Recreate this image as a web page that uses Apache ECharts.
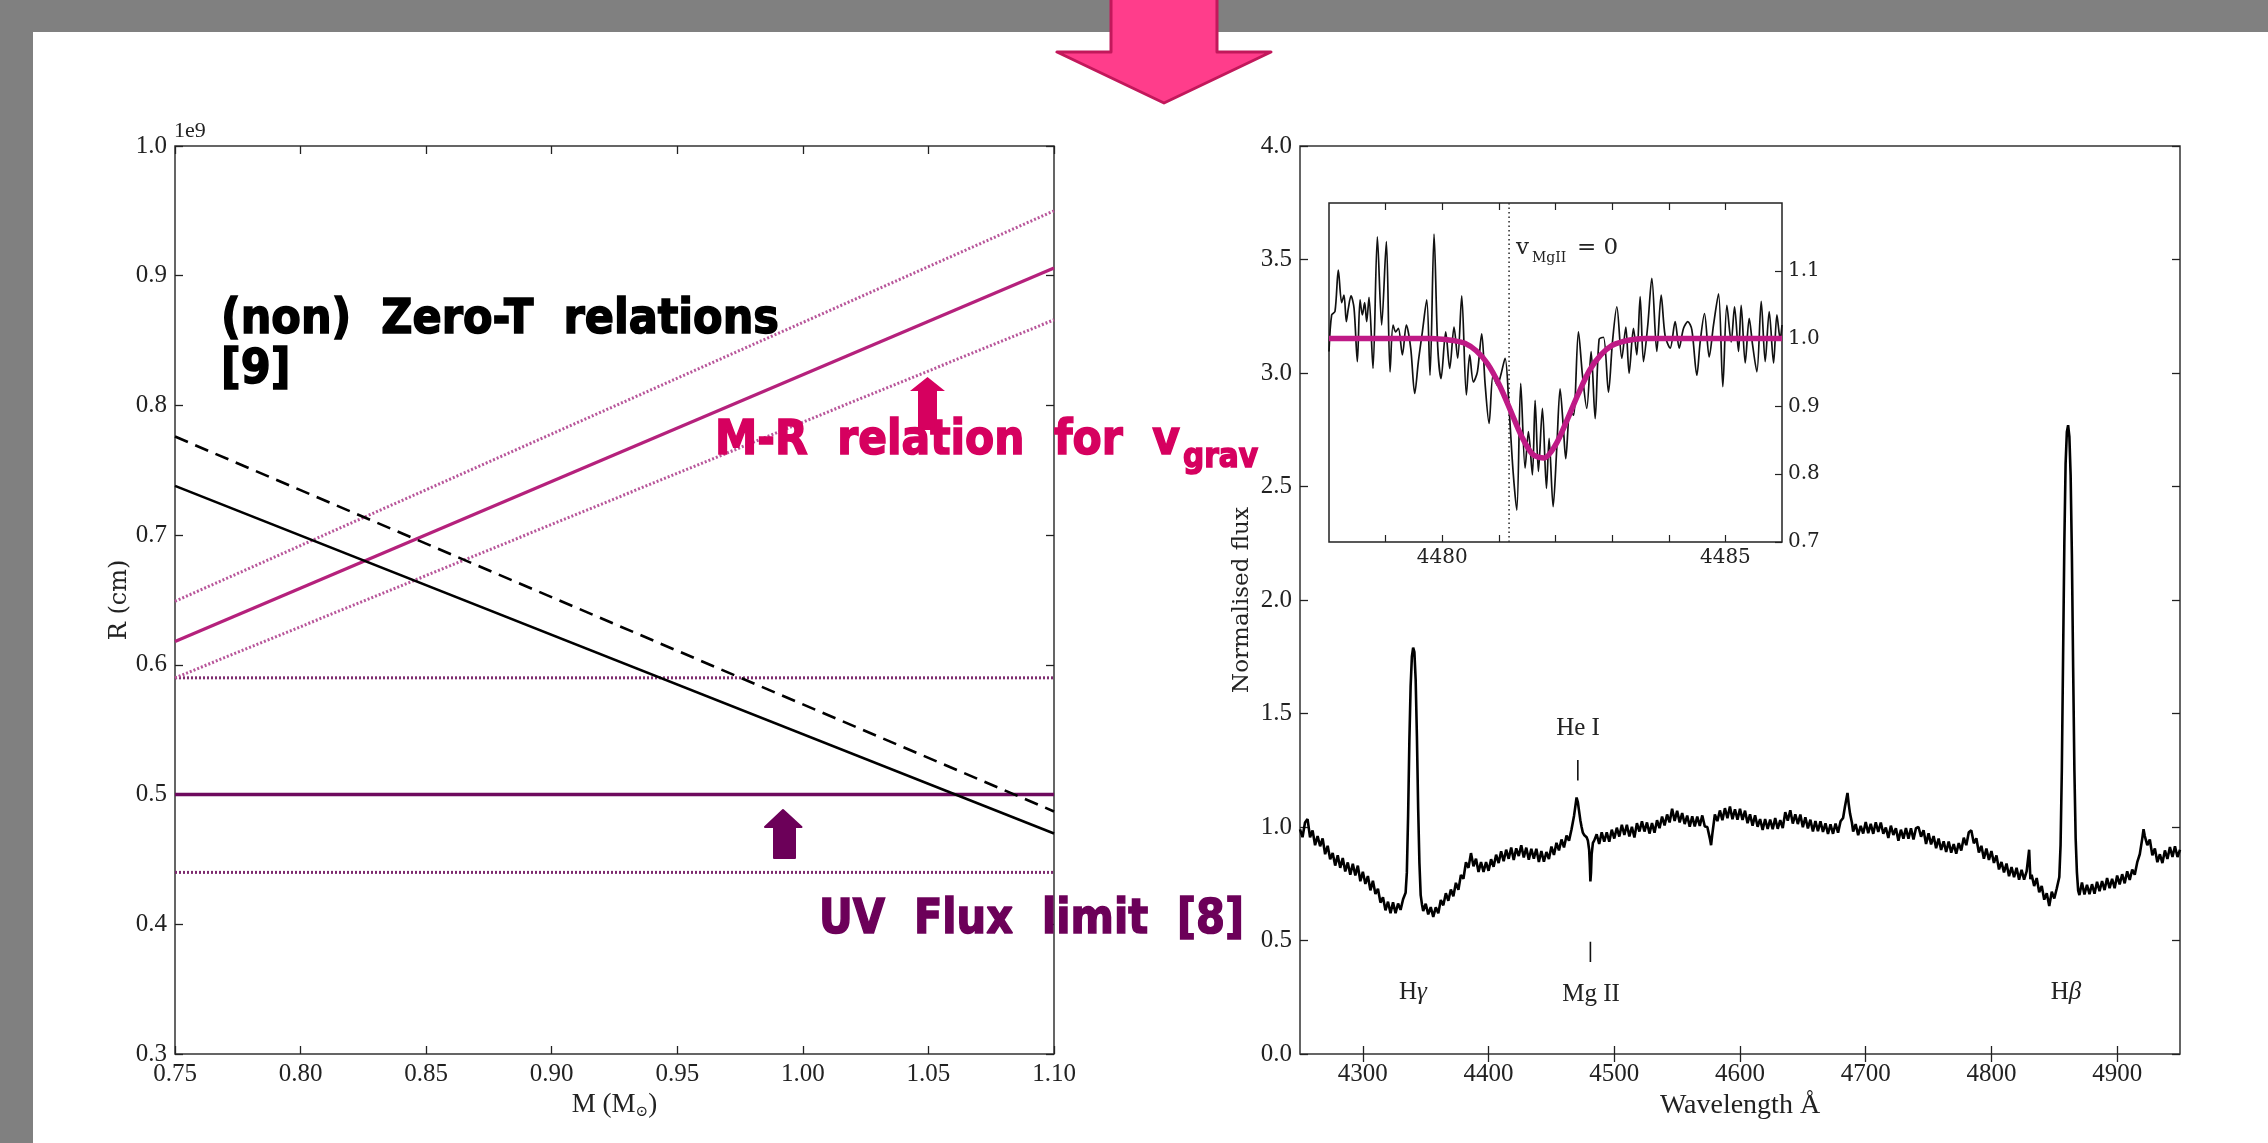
<!DOCTYPE html>
<html><head><meta charset="utf-8">
<script src="https://cdn.jsdelivr.net/npm/echarts@6/dist/echarts.min.js"></script>
<style>html,body{margin:0;padding:0;background:#fff;}#c{width:2268px;height:1143px;}</style>
</head><body><div id="c"></div>
<script>
// ---------- Left panel: mass-radius relations ----------
const massRange = [0.75, 1.10];
const zeroT = [0.738, 0.470];
const nonZeroT = [0.776, 0.487];
const mrGrav = [0.618, 0.906];
const mrGravUpper = [0.649, 0.950];
const mrGravLower = [0.590, 0.866];
const uvLimit = [0.50, 0.50];
const uvUpper = [0.59, 0.59];
const uvLower = [0.44, 0.44];
const massTicks = [0.75, 0.80, 0.85, 0.90, 0.95, 1.00, 1.05, 1.10];
const radiusTicks = [0.3, 0.4, 0.5, 0.6, 0.7, 0.8, 0.9, 1.0];

// ---------- Right panel: spectrum ----------
const waveTicks = [4300, 4400, 4500, 4600, 4700, 4800, 4900];
const fluxTicks = [0.0, 0.5, 1.0, 1.5, 2.0, 2.5, 3.0, 3.5, 4.0];
const specWave = [4250,4252,4254,4256,4258,4260,4262,4264,4266,4268,4270,4272,4274,4276,4278,4280,4282,4284,4286,4288,4290,4292,4294,4296,4298,4300,4302,4304,4306,4308,4310,4312,4314,4316,4318,4320,4322,4324,4326,4328,4330,4332,4333,4334,4335,4336,4337,4338,4339,4340,4341,4342,4343,4344,4345,4346,4347,4348,4350,4352,4354,4356,4358,4360,4362,4364,4366,4368,4370,4372,4374,4376,4378,4380,4382,4384,4386,4388,4390,4392,4394,4396,4398,4400,4402,4404,4406,4408,4410,4412,4414,4416,4418,4420,4422,4424,4426,4428,4430,4432,4434,4436,4438,4440,4442,4444,4446,4448,4450,4452,4454,4456,4458,4460,4462,4464,4466,4467,4468,4469,4470,4471,4472,4473,4474,4475,4476,4478,4479,4480,4480.5,4481,4481.5,4482,4483,4484,4486,4488,4490,4492,4494,4496,4498,4500,4502,4504,4506,4508,4510,4512,4514,4516,4518,4520,4522,4524,4526,4528,4530,4532,4534,4536,4538,4540,4542,4544,4546,4548,4550,4552,4554,4556,4558,4560,4562,4564,4566,4568,4570,4572,4574,4576,4577,4578,4580,4582,4584,4586,4588,4590,4592,4594,4596,4598,4600,4602,4604,4606,4608,4610,4612,4614,4616,4618,4620,4622,4624,4626,4628,4630,4632,4634,4636,4638,4640,4642,4644,4646,4648,4650,4652,4654,4656,4658,4660,4662,4664,4666,4668,4670,4672,4674,4676,4678,4680,4682,4683.5,4685.5,4686.5,4687.5,4689,4690,4692,4694,4696,4698,4700,4702,4704,4706,4708,4710,4712,4714,4716,4718,4720,4722,4724,4726,4728,4730,4732,4734,4736,4738,4740,4742,4744,4746,4748,4750,4752,4754,4756,4758,4760,4762,4764,4766,4768,4770,4772,4774,4776,4778,4780,4782,4784,4786,4788,4790,4792,4794,4796,4798,4800,4802,4804,4806,4808,4810,4812,4814,4816,4818,4820,4822,4824,4826,4828,4830,4831,4832,4834,4836,4838,4840,4842,4844,4846,4848,4850,4852,4853,4854,4855,4856,4857,4858,4859,4860,4861,4862,4863,4864,4865,4866,4867,4868,4869,4870,4872,4874,4876,4878,4880,4882,4884,4886,4888,4890,4892,4894,4896,4898,4900,4902,4904,4906,4908,4910,4912,4914,4916,4918,4920,4921,4922,4924,4926,4928,4930,4932,4934,4936,4938,4940,4942,4944,4946,4948,4950];
const specFlux = [0.99,0.955,1.02,1.035,0.955,0.985,0.92,0.96,0.915,0.95,0.88,0.917,0.858,0.885,0.83,0.875,0.82,0.863,0.804,0.844,0.79,0.838,0.787,0.83,0.761,0.803,0.749,0.784,0.721,0.763,0.705,0.728,0.667,0.69,0.633,0.671,0.62,0.668,0.62,0.663,0.635,0.682,0.68,0.71,0.80,1.05,1.38,1.62,1.75,1.79,1.77,1.65,1.40,1.08,0.84,0.70,0.66,0.63,0.662,0.615,0.647,0.604,0.646,0.62,0.678,0.655,0.708,0.675,0.725,0.695,0.754,0.723,0.789,0.772,0.845,0.82,0.885,0.827,0.86,0.802,0.846,0.802,0.845,0.807,0.858,0.825,0.878,0.841,0.893,0.849,0.90,0.86,0.91,0.855,0.906,0.872,0.919,0.866,0.909,0.856,0.904,0.861,0.904,0.846,0.894,0.847,0.89,0.859,0.914,0.877,0.93,0.897,0.945,0.91,0.962,0.94,0.99,1.02,1.05,1.09,1.13,1.11,1.07,1.03,1.0,0.975,0.965,0.955,0.94,0.90,0.84,0.76,0.80,0.88,0.93,0.94,0.968,0.925,0.977,0.935,0.977,0.935,0.988,0.949,0.997,0.958,1.01,0.965,1.01,0.958,1.001,0.954,1.017,0.98,1.025,0.98,1.02,0.971,1.017,0.975,1.03,0.995,1.046,1.007,1.055,1.02,1.08,1.027,1.071,1.02,1.061,1.013,1.05,1.001,1.047,1.002,1.046,1.005,1.051,1.002,1.0,0.95,0.92,0.97,1.055,1.026,1.073,1.03,1.083,1.039,1.09,1.034,1.078,1.032,1.08,1.031,1.072,1.017,1.056,1.006,1.052,1.001,1.035,0.987,1.035,0.991,1.033,0.99,1.039,0.992,1.03,0.995,1.065,1.028,1.074,1.015,1.056,1.013,1.055,0.999,1.043,0.994,1.032,0.98,1.026,0.982,1.025,0.978,1.016,0.969,1.012,0.97,1.015,0.975,1.025,1.04,1.09,1.15,1.10,1.06,1.02,0.98,1.013,0.964,1.005,0.971,1.022,0.973,1.014,0.97,1.021,0.978,1.02,0.97,0.998,0.952,1.006,0.965,0.995,0.94,0.988,0.949,0.995,0.948,0.994,0.945,0.995,1.0,0.957,0.986,0.925,0.972,0.923,0.96,0.907,0.949,0.899,0.937,0.89,0.936,0.887,0.925,0.882,0.929,0.896,0.953,0.92,0.977,0.985,0.928,0.95,0.888,0.917,0.86,0.905,0.855,0.894,0.842,0.875,0.813,0.846,0.80,0.839,0.783,0.823,0.779,0.82,0.768,0.811,0.768,0.804,0.90,0.77,0.79,0.74,0.775,0.712,0.74,0.68,0.708,0.652,0.715,0.685,0.73,0.73,0.78,0.92,1.25,1.75,2.25,2.60,2.74,2.77,2.72,2.55,2.20,1.70,1.25,0.95,0.80,0.72,0.70,0.755,0.703,0.745,0.704,0.748,0.706,0.759,0.717,0.762,0.722,0.775,0.731,0.772,0.73,0.786,0.747,0.792,0.752,0.805,0.767,0.813,0.79,0.845,0.88,0.95,0.99,0.96,0.92,0.945,0.875,0.905,0.845,0.88,0.841,0.897,0.859,0.912,0.868,0.915,0.868,0.90];
const heIMark = { wave: 4471, flux: [1.205, 1.295] };
const mgIIMark = { wave: 4481, flux: [0.405, 0.495] };

// ---------- Inset: Mg II 4481 line ----------
const insetWaveTicks = [4479, 4480, 4481, 4482, 4483, 4484, 4485];
const insetWaveLabels = [4480, 4485];
const insetFluxTicks = [0.7, 0.8, 0.9, 1.0, 1.1];
const insetWave = [4478.000,4478.047,4478.106,4478.165,4478.224,4478.265,4478.306,4478.342,4478.389,4478.442,4478.501,4478.548,4478.589,4478.630,4478.665,4478.707,4478.777,4478.854,4478.930,4479.013,4479.078,4479.131,4479.178,4479.225,4479.296,4479.366,4479.443,4479.514,4479.578,4479.649,4479.726,4479.784,4479.855,4479.920,4479.979,4480.061,4480.132,4480.208,4480.273,4480.344,4480.426,4480.485,4480.550,4480.621,4480.697,4480.756,4480.827,4480.898,4480.974,4481.033,4481.110,4481.180,4481.251,4481.316,4481.386,4481.463,4481.522,4481.592,4481.640,4481.698,4481.769,4481.840,4481.887,4481.958,4482.022,4482.081,4482.140,4482.181,4482.258,4482.317,4482.405,4482.476,4482.552,4482.629,4482.700,4482.770,4482.847,4482.935,4483.006,4483.083,4483.171,4483.242,4483.300,4483.377,4483.436,4483.495,4483.554,4483.630,4483.701,4483.789,4483.866,4483.936,4484.025,4484.113,4484.184,4484.260,4484.337,4484.408,4484.496,4484.555,4484.631,4484.714,4484.790,4484.879,4484.955,4485.026,4485.103,4485.162,4485.232,4485.279,4485.350,4485.421,4485.480,4485.556,4485.633,4485.703,4485.774,4485.851,4485.910,4485.968,4486.000];
const insetFlux = [0.981,1.035,1.040,1.101,1.053,1.064,1.025,1.045,1.063,1.045,0.966,1.057,1.035,1.053,1.025,1.061,0.956,1.150,1.020,1.143,0.951,1.020,1.010,1.015,0.976,1.020,0.986,0.919,0.966,1.010,1.057,0.946,1.154,0.988,0.941,1.010,0.956,1.017,0.971,1.063,0.917,0.976,0.936,0.951,1.007,0.934,0.875,0.946,0.931,0.946,0.971,0.897,0.804,0.747,0.934,0.809,0.863,0.799,0.909,0.804,0.897,0.779,0.853,0.752,0.838,0.926,0.867,0.823,0.897,0.887,1.010,0.946,0.897,0.981,0.882,0.999,1.002,0.921,0.995,1.047,0.971,1.017,0.949,1.015,0.976,1.062,0.966,1.020,1.089,0.981,1.064,1.004,0.986,1.025,0.986,1.015,1.025,1.013,0.946,0.995,1.037,0.973,1.020,1.066,0.929,1.049,0.995,1.047,0.981,1.049,0.964,1.030,0.991,0.951,1.055,0.966,1.040,0.964,1.035,0.999,1.020];
const fitWave = [4478.0,4478.2,4478.4,4478.6,4478.8,4479.0,4479.2,4479.4,4479.6,4479.8,4480.0,4480.2,4480.4,4480.6,4480.8,4481.0,4481.2,4481.4,4481.6,4481.8,4482.0,4482.2,4482.4,4482.6,4482.8,4483.0,4483.2,4483.4,4483.6,4483.8,4484.0,4484.2,4484.4,4484.6,4484.8,4485.0,4485.2,4485.4,4485.6,4485.8,4486.0];
const fitFlux = [1.0,1.0,1.0,1.0,1.0,1.0,1.0,1.0,1.0,1.0,0.999,0.997,0.993,0.982,0.963,0.933,0.895,0.856,0.829,0.824,0.843,0.879,0.918,0.953,0.976,0.990,0.996,0.999,1.0,1.0,1.0,1.0,1.0,1.0,1.0,1.0,1.0,1.0,1.0,1.0,1.0];
const zeroVelocityWave = 4481.18;

// ---------- helpers ----------
const zip = (xs, ys) => xs.map((x, i) => [x, ys[i]]);
const SERIF = 'Liberation Serif';
const DSERIF = 'DejaVu Serif';
const INK = '#222';

function measure(str, font) {
  const c = document.createElement('canvas').getContext('2d');
  c.font = font;
  return c.measureText(str).width;
}

function mainAxis(grid, min, max, ticks, fmt, pos, showLabel, extra) {
  const a = {
    type: 'value', gridIndex: grid, min: min, max: max, position: pos,
    axisLine: { show: false }, splitLine: { show: false },
    axisTick: { show: true, inside: true, length: 8, customValues: ticks, lineStyle: { color: INK, width: 1.3 } },
    axisLabel: { show: showLabel, customValues: ticks, formatter: fmt, fontFamily: SERIF, fontSize: 25, color: INK, margin: 8 }
  };
  return Object.assign(a, extra || {});
}

const chart = echarts.init(document.getElementById('c'), null, { width: 2268, height: 1143 });

const lineS = (x, y, data, color, width, type, z) => ({
  type: 'line', xAxisIndex: x, yAxisIndex: y, data: data, showSymbol: false, symbol: 'none',
  silent: true, animation: false, z: z || 2,
  lineStyle: { color: color, width: width, type: type || 'solid' }
});

const f2 = v => v.toFixed(2);
const f1 = v => v.toFixed(1);

const option = {
  backgroundColor: '#ffffff',
  animation: false,
  grid: [
    { left: 175, top: 146, width: 879, height: 908, show: true, borderColor: '#333', borderWidth: 1.5, backgroundColor: 'transparent' },
    { left: 1300, top: 146, width: 880, height: 908, show: true, borderColor: '#333', borderWidth: 1.5, backgroundColor: 'transparent' },
    { left: 1329, top: 203, width: 453, height: 339, show: true, borderColor: '#222', borderWidth: 1.5, backgroundColor: '#ffffff' }
  ],
  xAxis: [
    mainAxis(0, 0.75, 1.10, massTicks, f2, 'bottom', true, {
      name: 'M (M{s|⊙})', nameLocation: 'middle', nameGap: 36,
      nameTextStyle: { fontFamily: SERIF, fontSize: 27, color: INK, rich: { s: { fontFamily: DSERIF, fontSize: 15, color: INK, padding: [14, 0, 0, 0] } } }
    }),
    mainAxis(0, 0.75, 1.10, massTicks, f2, 'top', false),
    mainAxis(1, 4250, 4950, waveTicks, v => String(v), 'bottom', true, {
      name: 'Wavelength Å', nameLocation: 'middle', nameGap: 38,
      nameTextStyle: { fontFamily: SERIF, fontSize: 28, color: INK }
    }),
    mainAxis(1, 4250, 4950, waveTicks, v => String(v), 'top', false),
    {
      type: 'value', gridIndex: 2, min: 4478, max: 4486, position: 'bottom',
      axisLine: { show: false }, splitLine: { show: false },
      axisTick: { inside: true, length: 7, customValues: insetWaveTicks, lineStyle: { color: INK, width: 1.2 } },
      axisLabel: { customValues: insetWaveLabels, formatter: v => String(v), fontFamily: DSERIF, fontSize: 20, color: INK, margin: 6 }
    },
    {
      type: 'value', gridIndex: 2, min: 4478, max: 4486, position: 'top',
      axisLine: { show: false }, splitLine: { show: false },
      axisTick: { inside: true, length: 7, customValues: insetWaveTicks, lineStyle: { color: INK, width: 1.2 } },
      axisLabel: { show: false }
    }
  ],
  yAxis: [
    mainAxis(0, 0.3, 1.0, radiusTicks, f1, 'left', true, {
      name: 'R (cm)', nameLocation: 'middle', nameGap: 42,
      nameTextStyle: { fontFamily: DSERIF, fontSize: 24, color: INK }
    }),
    mainAxis(0, 0.3, 1.0, radiusTicks, f1, 'right', false),
    mainAxis(1, 0, 4, fluxTicks, f1, 'left', true, {
      name: 'Normalised flux', nameLocation: 'middle', nameGap: 46,
      nameTextStyle: { fontFamily: DSERIF, fontSize: 23, color: INK }
    }),
    mainAxis(1, 0, 4, fluxTicks, f1, 'right', false),
    {
      type: 'value', gridIndex: 2, min: 0.7, max: 1.2, position: 'right',
      axisLine: { show: false }, splitLine: { show: false },
      axisTick: { inside: true, length: 7, customValues: insetFluxTicks, lineStyle: { color: INK, width: 1.2 } },
      axisLabel: { customValues: insetFluxTicks, formatter: f1, fontFamily: DSERIF, fontSize: 20, color: INK, margin: 6 }
    }
  ],
  series: [
    lineS(0, 0, zip(massRange, uvUpper), '#7d2b6e', 3, [2, 2]),
    lineS(0, 0, zip(massRange, uvLower), '#7d2b6e', 3, [2, 2]),
    lineS(0, 0, zip(massRange, uvLimit), '#6e0a5e', 3.5),
    lineS(0, 0, zip(massRange, mrGravUpper), '#b8569a', 3, [2, 2]),
    lineS(0, 0, zip(massRange, mrGravLower), '#b8569a', 3, [2, 2]),
    lineS(0, 0, zip(massRange, mrGrav), '#b5217c', 3.2),
    lineS(0, 0, zip(massRange, zeroT), '#000000', 2.6),
    lineS(0, 0, zip(massRange, nonZeroT), '#000000', 2.6, [14, 8]),
    lineS(2, 2, zip(specWave, specFlux), '#000000', 2.6),
    lineS(2, 2, [[heIMark.wave, heIMark.flux[0]], [heIMark.wave, heIMark.flux[1]]], '#111', 1.6),
    lineS(2, 2, [[mgIIMark.wave, mgIIMark.flux[0]], [mgIIMark.wave, mgIIMark.flux[1]]], '#111', 1.6),
    lineS(4, 4, [[zeroVelocityWave, 0.7], [zeroVelocityWave, 1.2]], '#333', 1.6, [1.5, 3], 3),
    Object.assign(lineS(4, 4, zip(insetWave, insetFlux), '#111', 1.7, 'solid', 4), { smooth: 0.3 }),
    Object.assign(lineS(4, 4, zip(fitWave, fitFlux), '#bf1a86', 5.5, 'solid', 5), { smooth: 0.3 })
  ]
};

// ---------- annotation texts ----------
const BOLD = 'DejaVu Sans';
const t1 = '(non)  Zero-T  relations';
const t1s = 558 / measure(t1, 'bold 48px "' + BOLD + '"');
const t3 = 'M-R  relation  for  v';
const t3s = 465 / measure(t3, 'bold 48px "' + BOLD + '"');
const t4 = 'grav';
const t4s = 75 / measure(t4, 'bold 34px "' + BOLD + '"');
const t5 = 'UV  Flux  limit  [8]';
const t5s = 425 / measure(t5, 'bold 48px "' + BOLD + '"');

const boldText = (x, y, s, text, size, color) => ({
  type: 'text', x: x, y: y, scaleX: s, z: 50,
  style: { text: text, x: 0, y: 0, fontFamily: BOLD, fontWeight: 'bold', fontSize: size, fill: color, stroke: color, lineWidth: 1.6, align: 'left', verticalAlign: 'middle' }
});
const plainText = (x, y, text, family, size, align, rich) => ({
  type: 'text', x: x, y: y, z: 50,
  style: { text: text, x: 0, y: 0, fontFamily: family, fontSize: size, fill: INK, align: align || 'center', verticalAlign: 'middle', rich: rich }
});

const PINK = '#d6005f';
const PURPLE = '#6c0059';

option.graphic = [
  { type: 'rect', z: 40, shape: { x: 0, y: 0, width: 2268, height: 32 }, style: { fill: '#808080' } },
  { type: 'rect', z: 40, shape: { x: 0, y: 0, width: 33, height: 1143 }, style: { fill: '#808080' } },
  { type: 'polygon', z: 45, shape: { points: [[1111, -6], [1217, -6], [1217, 52], [1271, 52], [1164, 103], [1057, 52], [1111, 52]] },
    style: { fill: '#ff3d8b', stroke: '#c2185b', lineWidth: 3, lineJoin: 'round' } },
  plainText(174, 131, '1e9', SERIF, 22, 'left'),
  { type: 'polygon', z: 48, shape: { points: [[918, 430], [918, 391], [910, 391], [927.5, 377], [945, 391], [937, 391], [937, 430]] }, style: { fill: PINK } },
  { type: 'polygon', z: 48, shape: { points: [[774, 858], [774, 827], [765, 827], [783, 810], [801.5, 827], [795, 827], [795, 858]] }, style: { fill: PURPLE, stroke: PURPLE, lineWidth: 2, lineJoin: 'round' } },
  boldText(221, 321, t1s, t1, 48, '#000'),
  boldText(221, 371, t1s, '[9]', 48, '#000'),
  boldText(715, 442, t3s, t3, 48, PINK),
  boldText(1183, 458, t4s, t4, 34, PINK),
  boldText(819, 921, t5s, t5, 48, PURPLE),
  plainText(1516, 248, 'v', DSERIF, 23, 'left'),
  plainText(1532, 258, 'MgII', DSERIF, 14, 'left'),
  plainText(1577, 248, '= 0', DSERIF, 23, 'left'),
  plainText(1578, 728, 'He I', SERIF, 25),
  plainText(1413, 992, '{a|H}{b|γ}', SERIF, 25, 'center', { a: { fontFamily: SERIF, fontSize: 25, fill: INK }, b: { fontFamily: SERIF, fontSize: 25, fontStyle: 'italic', fill: INK } }),
  plainText(1591, 994, 'Mg II', SERIF, 25),
  plainText(2066, 992, '{a|H}{b|β}', SERIF, 25, 'center', { a: { fontFamily: SERIF, fontSize: 25, fill: INK }, b: { fontFamily: SERIF, fontSize: 25, fontStyle: 'italic', fill: INK } })
];

chart.setOption(option);
</script>
</body></html>
